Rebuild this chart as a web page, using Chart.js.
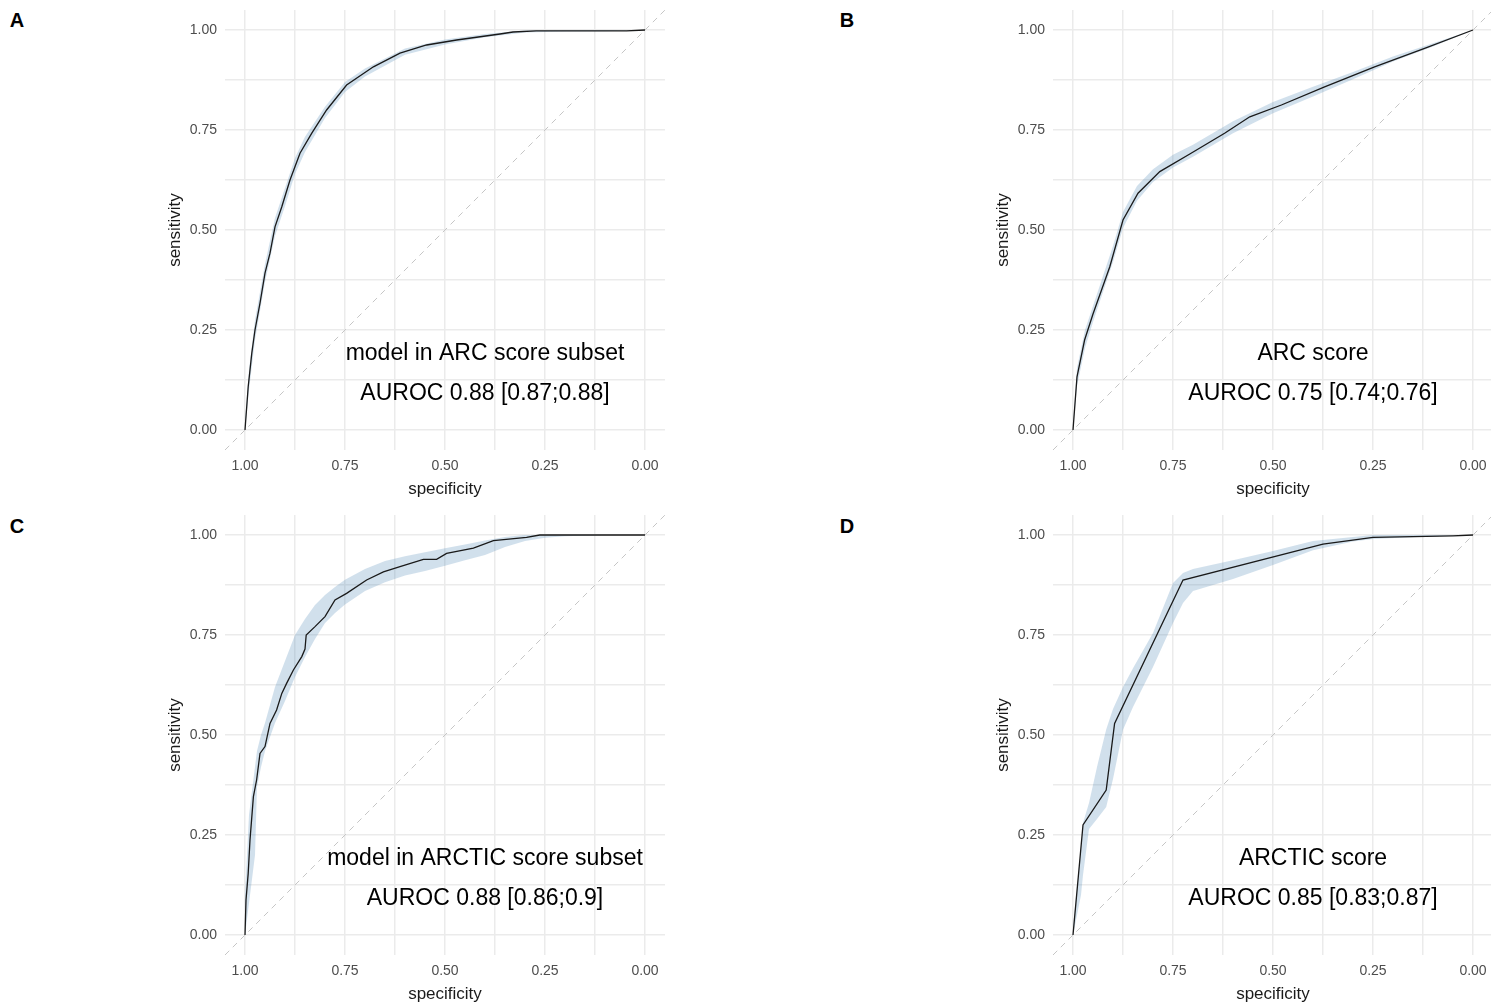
<!DOCTYPE html>
<html>
<head>
<meta charset="utf-8">
<title>ROC curves</title>
<script src="https://cdn.jsdelivr.net/npm/chart.js@4.4.1/dist/chart.umd.min.js"></script>
<style>
  html, body { margin: 0; padding: 0; background: #fff; overflow: hidden; width: 1491px; height: 1004px; }
  canvas { position: absolute; }
  .tag { position: absolute; font: bold 20px "Liberation Sans", Arial, sans-serif; color: #000;
         transform: translate(-50%, -50%); line-height: 1; }
</style>
</head>
<body>
<div class="tag" style="left:17px;top:20px">A</div>
<div class="tag" style="left:847px;top:20px">B</div>
<div class="tag" style="left:17px;top:526px">C</div>
<div class="tag" style="left:847px;top:526px">D</div>

<canvas id="panel-a" width="745" height="502" style="left:0;top:0"></canvas>
<canvas id="panel-b" width="745" height="502" style="left:828px;top:0"></canvas>
<canvas id="panel-c" width="745" height="502" style="left:0;top:505px"></canvas>
<canvas id="panel-d" width="745" height="502" style="left:828px;top:505px"></canvas>

<script>
// axis grid / tick labels
const gridValues = [0, 0.125, 0.25, 0.375, 0.5, 0.625, 0.75, 0.875, 1];
const tickLabels = ['0.00', '', '0.25', '', '0.50', '', '0.75', '', '1.00'];

// reference diagonal (chance line), spans whole panel
const diagSpec = [1.05, -0.05];
const diagSens = [-0.05, 1.05];

// A: model in ARC score subset
const specA = [1, 0.992, 0.983, 0.975, 0.9625, 0.95, 0.9375, 0.925, 0.908, 0.8875, 0.8625, 0.833, 0.796, 0.746, 0.679, 0.6125, 0.546, 0.471, 0.3625, 0.33, 0.272, 0.046, 0];
const sensA = [0, 0.108, 0.192, 0.25, 0.317, 0.392, 0.442, 0.508, 0.558, 0.625, 0.692, 0.742, 0.8, 0.8625, 0.908, 0.942, 0.9625, 0.975, 0.99, 0.995, 0.998, 0.998, 1];
const bandSpecA = [1, 0.99, 0.975, 0.95, 0.925, 0.9, 0.875, 0.85, 0.8, 0.75, 0.7, 0.6, 0.5, 0.4, 0.3, 0.2, 0.1, 0];
const lowerA = [0, 0.1, 0.225, 0.37, 0.485, 0.56, 0.64, 0.695, 0.78, 0.845, 0.884, 0.938, 0.964, 0.982, 0.994, 0.996, 0.997, 1];
const upperA = [0.02, 0.15, 0.275, 0.415, 0.53, 0.605, 0.68, 0.733, 0.808, 0.87, 0.904, 0.954, 0.976, 0.99, 0.999, 1, 1, 1];

// B: ARC score
const specB = [1, 0.99, 0.971, 0.95, 0.908, 0.875, 0.8375, 0.783, 0.708, 0.621, 0.558, 0.479, 0.371, 0.246, 0.121, 0];
const sensB = [0, 0.133, 0.225, 0.29, 0.408, 0.525, 0.592, 0.646, 0.69, 0.742, 0.783, 0.8125, 0.858, 0.908, 0.954, 1];
const bandSpecB = [1, 0.99, 0.97, 0.95, 0.9, 0.875, 0.84, 0.8, 0.75, 0.7, 0.6, 0.5, 0.4, 0.3, 0.2, 0.1, 0];
const lowerB = [0, 0.11, 0.205, 0.27, 0.42, 0.505, 0.573, 0.62, 0.656, 0.683, 0.742, 0.792, 0.834, 0.877, 0.921, 0.959, 1];
const upperB = [0.01, 0.155, 0.25, 0.31, 0.46, 0.545, 0.61, 0.652, 0.688, 0.713, 0.772, 0.82, 0.858, 0.895, 0.934, 0.967, 1];

// C: model in ARCTIC score subset
const specC = [1, 0.9975, 0.992, 0.9875, 0.979, 0.971, 0.9625, 0.95, 0.9375, 0.921, 0.908, 0.896, 0.879, 0.858, 0.85, 0.847, 0.825, 0.8, 0.775, 0.746, 0.696, 0.654, 0.6125, 0.554, 0.521, 0.496, 0.429, 0.379, 0.296, 0.263, 0];
const sensC = [0, 0.0875, 0.154, 0.2375, 0.346, 0.3875, 0.454, 0.471, 0.529, 0.5625, 0.604, 0.629, 0.6625, 0.696, 0.715, 0.75, 0.771, 0.796, 0.8375, 0.854, 0.8875, 0.908, 0.921, 0.939, 0.939, 0.954, 0.967, 0.986, 0.994, 1, 1];
const bandSpecC = [1, 0.99, 0.975, 0.97, 0.96, 0.95, 0.925, 0.9, 0.875, 0.85, 0.825, 0.8, 0.775, 0.75, 0.7, 0.65, 0.6, 0.55, 0.5, 0.45, 0.4, 0.35, 0.3, 0.25, 0.2, 0.1, 0];
const lowerC = [0, 0.08, 0.2, 0.37, 0.42, 0.46, 0.53, 0.585, 0.645, 0.695, 0.74, 0.78, 0.805, 0.826, 0.86, 0.882, 0.899, 0.91, 0.923, 0.937, 0.95, 0.97, 0.985, 0.993, 0.997, 1, 1];
const upperC = [0.1, 0.3, 0.42, 0.46, 0.5, 0.53, 0.62, 0.685, 0.75, 0.79, 0.825, 0.85, 0.87, 0.888, 0.915, 0.935, 0.947, 0.957, 0.967, 0.976, 0.986, 0.995, 1, 1, 1, 1, 1];

// D: ARCTIC score
const specD = [1, 0.975, 0.917, 0.896, 0.725, 0.375, 0.25, 0.05, 0];
const sensD = [0, 0.275, 0.3625, 0.529, 0.8875, 0.977, 0.994, 0.998, 1];
const bandSpecD = [1, 0.98, 0.975, 0.96, 0.94, 0.917, 0.9, 0.875, 0.85, 0.8, 0.75, 0.725, 0.7, 0.6, 0.5, 0.4, 0.3, 0.25, 0.1, 0];
const lowerD = [0, 0.1, 0.15, 0.265, 0.29, 0.32, 0.39, 0.513, 0.57, 0.67, 0.78, 0.83, 0.86, 0.89, 0.925, 0.962, 0.984, 0.99, 0.997, 1];
const upperD = [0.02, 0.22, 0.28, 0.33, 0.42, 0.514, 0.565, 0.62, 0.667, 0.755, 0.88, 0.905, 0.915, 0.937, 0.96, 0.985, 0.995, 1, 1, 1];

const FONT = '"Liberation Sans", Arial, sans-serif';

// text labels inside each panel
const panelText = {
  id: 'panelText',
  afterDatasetsDraw(chart, args, opts) {
    const ctx = chart.ctx;
    const x = chart.scales.x, y = chart.scales.y;
    ctx.save();
    ctx.font = '23px ' + FONT;
    ctx.fillStyle = '#000';
    ctx.textAlign = 'center';
    ctx.textBaseline = 'middle';
    opts.lines.forEach((t, i) => {
      ctx.fillText(t, x.getPixelForValue(opts.x), y.getPixelForValue(opts.y[i]));
    });
    ctx.restore();
  }
};

function toPoints(xs, ys) {
  return xs.map((v, i) => ({ x: v, y: ys[i] }));
}

function labelFor(v) {
  const i = gridValues.indexOf(v);
  return i < 0 ? '' : tickLabels[i];
}

function axis(titleText, isX) {
  return {
    type: 'linear',
    reverse: isX,
    min: -0.05,
    max: 1.05,
    afterBuildTicks: s => { s.ticks = gridValues.map(v => ({ value: v })); },
    afterFit: s => {
      // fixed box sizes so the plot area lands where the original has it
      if (isX) s.height = 52; else s.width = 65;
      s.paddingTop = 0; s.paddingBottom = 0;
      s.paddingLeft = 0; s.paddingRight = 0;
    },
    grid: { color: '#ebebeb', lineWidth: 1.5, drawTicks: false },
    border: { display: false },
    ticks: {
      padding: 8,
      color: '#4d4d4d',
      font: { family: FONT, size: 14 },
      autoSkip: false,
      maxRotation: 0,
      callback: v => labelFor(v)
    },
    title: {
      display: true,
      text: titleText,
      color: '#1a1a1a',
      font: { family: FONT, size: 17 },
      padding: isX ? { top: 0, bottom: 2 } : { top: 5, bottom: 0 }
    }
  };
}

function makePanel(id, spec, sens, bandSpec, lower, upper, lines) {
  const canvas = document.getElementById(id);
  if (!canvas) {
    console.error("Canvas with ID '" + id + "' not found.");
    return;
  }
  new Chart(canvas, {
    type: 'line',
    data: {
      datasets: [
        { data: toPoints(spec, sens), borderColor: '#1a1a1a', borderWidth: 1.3, pointRadius: 0, tension: 0, fill: false },
        { data: toPoints(diagSpec, diagSens), borderColor: '#c6c6c6', borderWidth: 1, borderDash: [6, 5], pointRadius: 0, fill: false },
        { data: toPoints(bandSpec, upper), borderColor: 'rgba(0,0,0,0)', borderWidth: 1, pointRadius: 0, fill: '+1', backgroundColor: 'rgba(70,130,180,0.25)' },
        { data: toPoints(bandSpec, lower), borderColor: 'rgba(0,0,0,0)', borderWidth: 1, pointRadius: 0, fill: false }
      ]
    },
    options: {
      responsive: false,
      animation: false,
      layout: { padding: { left: 160, right: 80, top: 10, bottom: 0 } },
      plugins: {
        legend: { display: false },
        tooltip: { enabled: false },
        panelText: { lines: lines, x: 0.4, y: [0.19, 0.09] }
      },
      scales: {
        x: axis('specificity', true),
        y: axis('sensitivity', false)
      }
    },
    plugins: [panelText]
  });
}

makePanel('panel-a', specA, sensA, bandSpecA, lowerA, upperA, ['model in ARC score subset', 'AUROC 0.88 [0.87;0.88]']);
makePanel('panel-b', specB, sensB, bandSpecB, lowerB, upperB, ['ARC score', 'AUROC 0.75 [0.74;0.76]']);
makePanel('panel-c', specC, sensC, bandSpecC, lowerC, upperC, ['model in ARCTIC score subset', 'AUROC 0.88 [0.86;0.9]']);
makePanel('panel-d', specD, sensD, bandSpecD, lowerD, upperD, ['ARCTIC score', 'AUROC 0.85 [0.83;0.87]']);
</script>
</body>
</html>
